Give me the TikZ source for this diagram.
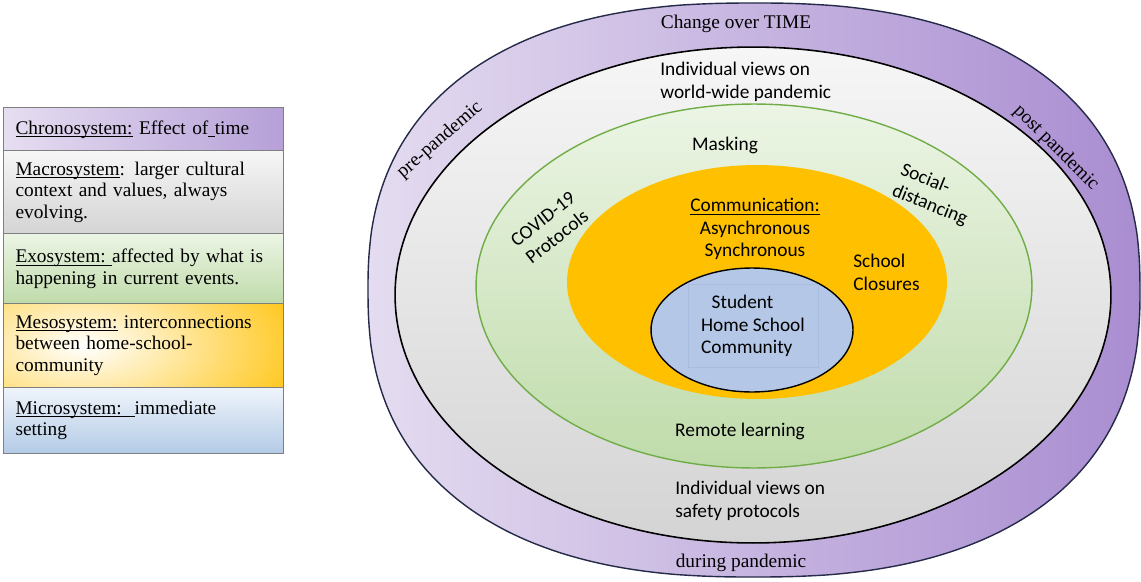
\documentclass[tikz,border=0pt]{standalone}
\usepackage{fontspec}
\setmainfont{Liberation Serif}
\newfontfamily\calibri{Carlito}
\usepackage{xcolor}
\usepackage{tikz}
\usetikzlibrary{positioning}

\definecolor{chronoL}{HTML}{E6DEF1}
\definecolor{chronoR}{HTML}{B6A0D8}
\definecolor{ringL}{HTML}{E4DCF0}
\definecolor{ringR}{HTML}{A98DD1}
\definecolor{ringedge}{HTML}{252A48}
\definecolor{macrotop}{HTML}{F6F6F6}
\definecolor{macrobot}{HTML}{D4D4D4}
\definecolor{exotop}{HTML}{ECF5E5}
\definecolor{exobot}{HTML}{BFDBAA}
\definecolor{exoline}{HTML}{70AD47}
\definecolor{mesoorange}{HTML}{FFC000}
\definecolor{microblue}{HTML}{B4C7E7}
\definecolor{microtop}{HTML}{EFF4FB}
\definecolor{microbot}{HTML}{B3CBE6}
\definecolor{legendline}{HTML}{7F7F7F}
\definecolor{boxline}{HTML}{A8BCE0}

\newcommand{\ulsys}[1]{\underline{\smash{#1}}}

\tikzset{
	legendrow/.style={draw=legendline, line width=0.6pt, rectangle, anchor=north west,
		text width=5.12cm, inner xsep=0.24cm, inner ysep=0pt, align=left,
		font=\fontsize{11}{12.3}\selectfont},
	chronolook/.style={left color=chronoL, right color=chronoR},
	macrolook/.style={top color=macrotop, bottom color=macrobot},
	exolook/.style={top color=exotop, bottom color=exobot},
	mesolook/.style={fill=mesoorange, path picture={
		\shade[inner color=white, outer color=mesoorange]
			([xshift=1.6cm]path picture bounding box.west) ellipse [x radius=5cm, y radius=2.4cm];}},
	microlook/.style={top color=microtop, bottom color=microbot},
	ringtext/.style={font=\fontsize{11}{13}\selectfont\calibri, inner sep=0pt},
	timetext/.style={font=\fontsize{11}{13}\selectfont, inner sep=0pt}
}

\begin{document}
\begin{tikzpicture}[x=0.02cm, y=-0.02cm]
	\useasboundingbox (0,0) rectangle (1141,581);

	% Legende
	\foreach \row/\ypos/\hgt/\look/\txt in {
		chrono/107/0.86/chronolook/{\ulsys{Chronosystem:} Effect of\ulsys{\ }time},
		macro/150/1.66/macrolook/{\ulsys{Macrosystem}: larger cultural\\context and values, always\\evolving.},
		exo/233/1.40/exolook/{\ulsys{Exosystem:\ }affected by what is\\happening in current events.},
		meso/303/1.68/mesolook/{\ulsys{Mesosystem:} interconnections\\between home-school-\\community},
		micro/387/1.32/microlook/{\ulsys{Microsystem:\ \ }immediate\\setting}
	}{
		\node[legendrow, \look, minimum height=\hgt cm] (\row) at (3,\ypos) {\txt};
	}

	% Ringe
	\shadedraw[left color=ringL, right color=ringR, draw=ringedge, line width=0.8pt]
		plot[domain=0.5:358.5, samples=180, smooth]
		({754+386*sign(cos(\x))*abs(cos(\x))^(0.833)}, {290+287*sign(sin(\x))*abs(sin(\x))^(0.833)}) -- cycle;
	\shadedraw[top color=macrotop, bottom color=macrobot, draw=black, line width=0.9pt]
		(753,295) ellipse [x radius=7.16cm, y radius=4.96cm];
	\shadedraw[top color=exotop, bottom color=exobot, draw=exoline, line width=0.8pt]
		(754,286) ellipse [x radius=5.56cm, y radius=3.64cm];
	\fill[mesoorange] (757,282) ellipse [x radius=3.8cm, y radius=2.34cm];
	\filldraw[fill=microblue, draw=black, line width=0.8pt]
		(752,330) ellipse [x radius=2.02cm, y radius=1.24cm];

	% Zeit
	\node[timetext] (time) at (736,24) {Change over TIME};
	\node[timetext, rotate=41] (pre) at (440,140) {pre-pandemic};
	\node[timetext, rotate=-45] (post) at (1056,148) {post pandemic};
	\node[timetext] (during) at (741,563) {during pandemic};

	% Texte in den Ringen
	\node[ringtext, anchor=west, align=left] (worldviews) at (660,82) {Individual views on\\world-wide pandemic};
	\node[ringtext] (masking) at (725,145) {Masking};
	\node[ringtext, rotate=38, align=center] (covid) at (550,228) {COVID-19\\Protocols};
	\node[ringtext, rotate=-22, align=left] (social) at (934,195) {Social-\\distancing};
	\node[ringtext, align=center] (comm) at (755,229) {\underline{Communication:}\\Asynchronous\\Synchronous};
	\node[ringtext, anchor=west, align=left] (closures) at (853,272) {School\\Closures};
	\node[ringtext, draw=boxline, line width=0.4pt, align=left, minimum width=2.6cm, minimum height=1.66cm]
		(student) at (753,326) {\hspace*{6pt}Student\\Home School\\Community};
	\node[ringtext] (remote) at (740,431) {Remote learning};
	\node[ringtext, anchor=west, align=left] (safetyviews) at (675,501) {Individual views on\\safety protocols};
\end{tikzpicture}
\end{document}
